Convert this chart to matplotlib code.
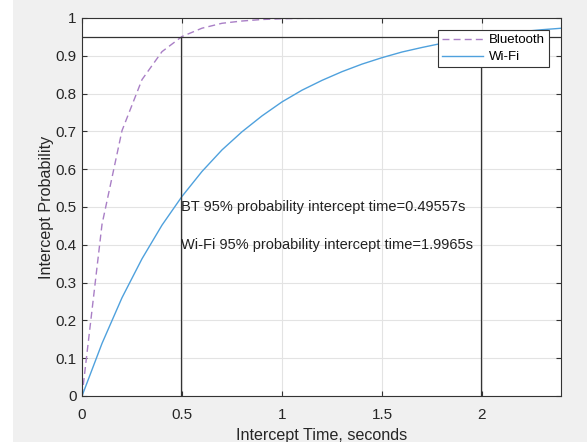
import matplotlib.pyplot as plt
import numpy as np
from matplotlib.patches import Rectangle

# sample times, seconds
t = [0.0, 0.1, 0.2, 0.3, 0.4, 0.5, 0.6, 0.7, 0.8, 0.9, 1.0, 1.1, 1.2,
     1.3, 1.4, 1.5, 1.6, 1.7, 1.8, 1.9, 2.0, 2.1, 2.2, 2.3, 2.4]
bt = [0.0, 0.454, 0.702, 0.837, 0.911, 0.951, 0.973, 0.986, 0.992, 0.996,
      0.998, 0.999, 0.999, 1.0, 1.0, 1.0, 1.0, 1.0, 1.0, 1.0, 1.0, 1.0,
      1.0, 1.0, 1.0]
wifi = [0.0, 0.139, 0.260, 0.363, 0.452, 0.528, 0.594, 0.651, 0.699, 0.741,
        0.778, 0.809, 0.835, 0.858, 0.878, 0.895, 0.910, 0.922, 0.933, 0.943,
        0.951, 0.958, 0.964, 0.969, 0.973]
target = 0.95
bt_time = 0.49557
wifi_time = 1.9965

plt.rcParams['font.family'] = ['Liberation Sans', 'DejaVu Sans']
plt.rcParams['font.size'] = 10.5

fig = plt.figure(figsize=(5.87, 4.42), dpi=100, facecolor='white')
# grey window background, white strip on the left like the screenshot
fig.patches.append(Rectangle((13 / 587, 0), 1, 1, transform=fig.transFigure,
                             facecolor='#f0f0f0', edgecolor='none', zorder=-10))
ax = fig.add_axes([0.1397, 0.1041, 0.8160, 0.8552])

ax.plot(t, bt, '--', color='#a97fc6', lw=1.0, label='Bluetooth', dashes=(5, 3))
ax.plot(t, wifi, '-', color='#4fa1dd', lw=1.0, label='Wi-Fi')

# 95% markers
ax.plot([0, 2.4], [target, target], color='#333333', lw=0.9)
ax.plot([bt_time, bt_time], [0, target], color='#333333', lw=0.9)
ax.plot([wifi_time, wifi_time], [0, target], color='#333333', lw=0.9)

ax.text(bt_time, 0.5, 'BT 95%% probability intercept time=%gs' % bt_time,
        va='center', ha='left', color='#222222', fontsize=10.5)
ax.text(bt_time, 0.4, 'Wi-Fi 95%% probability intercept time=%gs' % wifi_time,
        va='center', ha='left', color='#222222', fontsize=10.5)

ax.set_xlim(0, 2.395)
ax.set_ylim(0, 1)
ax.set_xticks([0, 0.5, 1, 1.5, 2])
ax.set_xticklabels(['0', '0.5', '1', '1.5', '2'])
ax.set_yticks(np.arange(0, 1.01, 0.1))
ax.set_yticklabels(['0', '0.1', '0.2', '0.3', '0.4', '0.5', '0.6', '0.7',
                    '0.8', '0.9', '1'])
ax.grid(True, color='#e3e3e3', lw=0.8)
ax.set_axisbelow(True)
ax.tick_params(direction='in', top=True, right=True, length=3.5,
               color='#333333', labelcolor='#262626', labelsize=11)
ax.tick_params(axis='x', pad=9)
ax.tick_params(axis='y', pad=4)
for s in ax.spines.values():
    s.set_color('#333333')
    s.set_linewidth(0.8)

ax.set_xlabel('Intercept Time, seconds', color='#262626', labelpad=4,
              fontsize=11.6)
ax.set_ylabel('Intercept Probability', color='#262626', labelpad=1,
              fontsize=11.6)

leg = ax.legend(loc='upper right', bbox_to_anchor=(0.975, 0.968),
                fancybox=False, framealpha=1, edgecolor='#333333',
                fontsize=9.5, borderpad=0.3, handlelength=3.1,
                labelspacing=0.35, handletextpad=0.45, borderaxespad=0)
leg.get_frame().set_linewidth(0.8)

fig.savefig('out.png', dpi=100, facecolor=fig.get_facecolor())
